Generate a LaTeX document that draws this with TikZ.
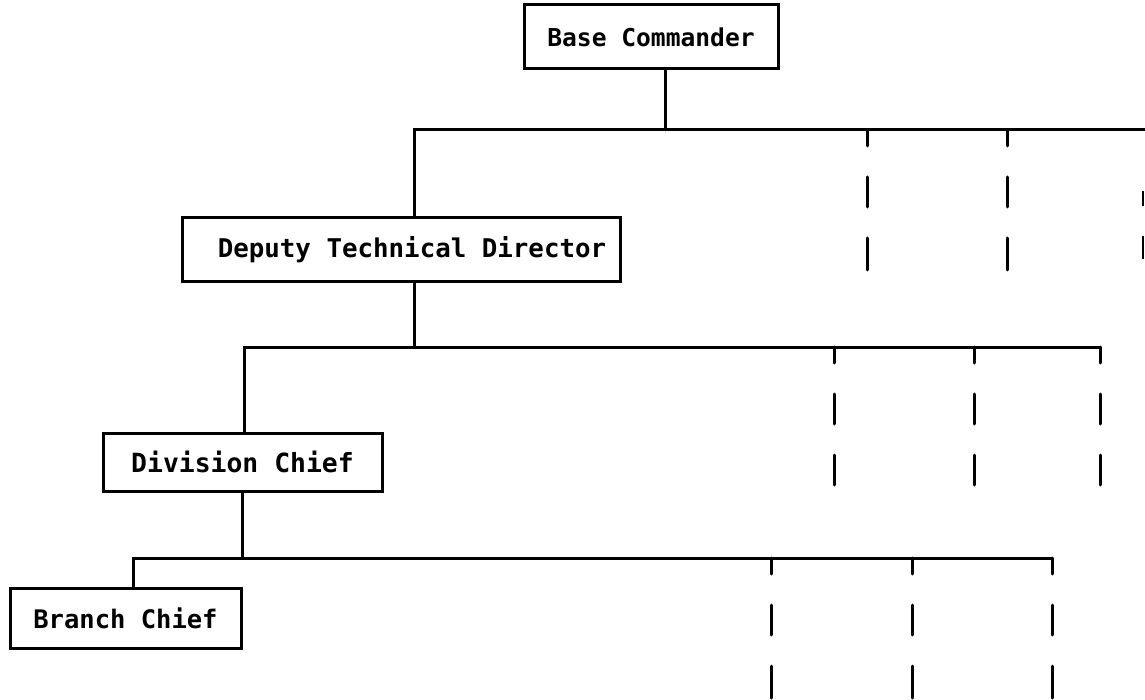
\documentclass[tikz,border=0pt]{standalone}
\usepackage{fontspec}
\newfontfamily\labelfont{DejaVu Sans Mono}
\begin{document}
\begin{tikzpicture}[x=1pt,y=-1pt,
  line width=3pt,
  office/.style={draw, rectangle, inner sep=0pt, line join=miter},
  txt/.style={font=\labelfont\bfseries\fontsize{#1}{30}\selectfont},
  link/.style={line cap=round},
  vacant/.style={line cap=round, dash pattern=on 16 off 31 on 30 off 31 on 32}]
\useasboundingbox (0,0) rectangle (1145,700);

% offices
\node[office, txt=24.6, minimum width=254, minimum height=64] (bc) at (651,37) {Base Commander};
\node[office, txt=25.8, minimum width=438, minimum height=64] (dtd) at (401,250) {\hspace*{22pt}Deputy Technical Director};
\node[office, txt=26.4, minimum width=279, minimum height=58] (dc) at (242.5,462) {Division Chief};
\node[office, txt=25.5, minimum width=231, minimum height=60] (br) at (125.5,618) {Branch Chief};

% first tier bus
\coordinate (b1L) at (414,130);
\coordinate (b1R) at (1145,130);
\coordinate (b1a) at (867,130);
\coordinate (b1b) at (1007,130);
\draw[link] (bc.south -| 665,0) -- (665,130);
\draw[link] (b1R) -- (b1L) -- (b1L |- dtd.north);
\draw[vacant] (b1a) -- ++(0,140);
\draw[vacant] (b1b) -- ++(0,140);
\draw[line width=2pt] (1143,191) -- (1143,206);
\draw[line width=2pt] (1143,236) -- (1143,259);

% second tier bus
\coordinate (b2L) at (244,347);
\coordinate (b2a) at (834,347);
\coordinate (b2b) at (974,347);
\coordinate (b2R) at (1100,347);
\draw[link] (414,282) -- (414,347);
\draw[link] (b2L |- dc.north) -- (b2L) -- (b2R);
\draw[vacant] (b2a) -- ++(0,138);
\draw[vacant] (b2b) -- ++(0,138);
\draw[vacant] (b2R) -- ++(0,138);

% third tier bus
\coordinate (b3L) at (133,558);
\coordinate (b3a) at (771,558);
\coordinate (b3b) at (912,558);
\coordinate (b3R) at (1052,558);
\draw[link] (dc.south) -- (dc.south |- b3L);
\draw[link] (b3L |- br.north) -- (b3L) -- (b3R);
\draw[vacant] (b3a) -- ++(0,145);
\draw[vacant] (b3b) -- ++(0,145);
\draw[vacant] (b3R) -- ++(0,145);
\end{tikzpicture}
\end{document}
